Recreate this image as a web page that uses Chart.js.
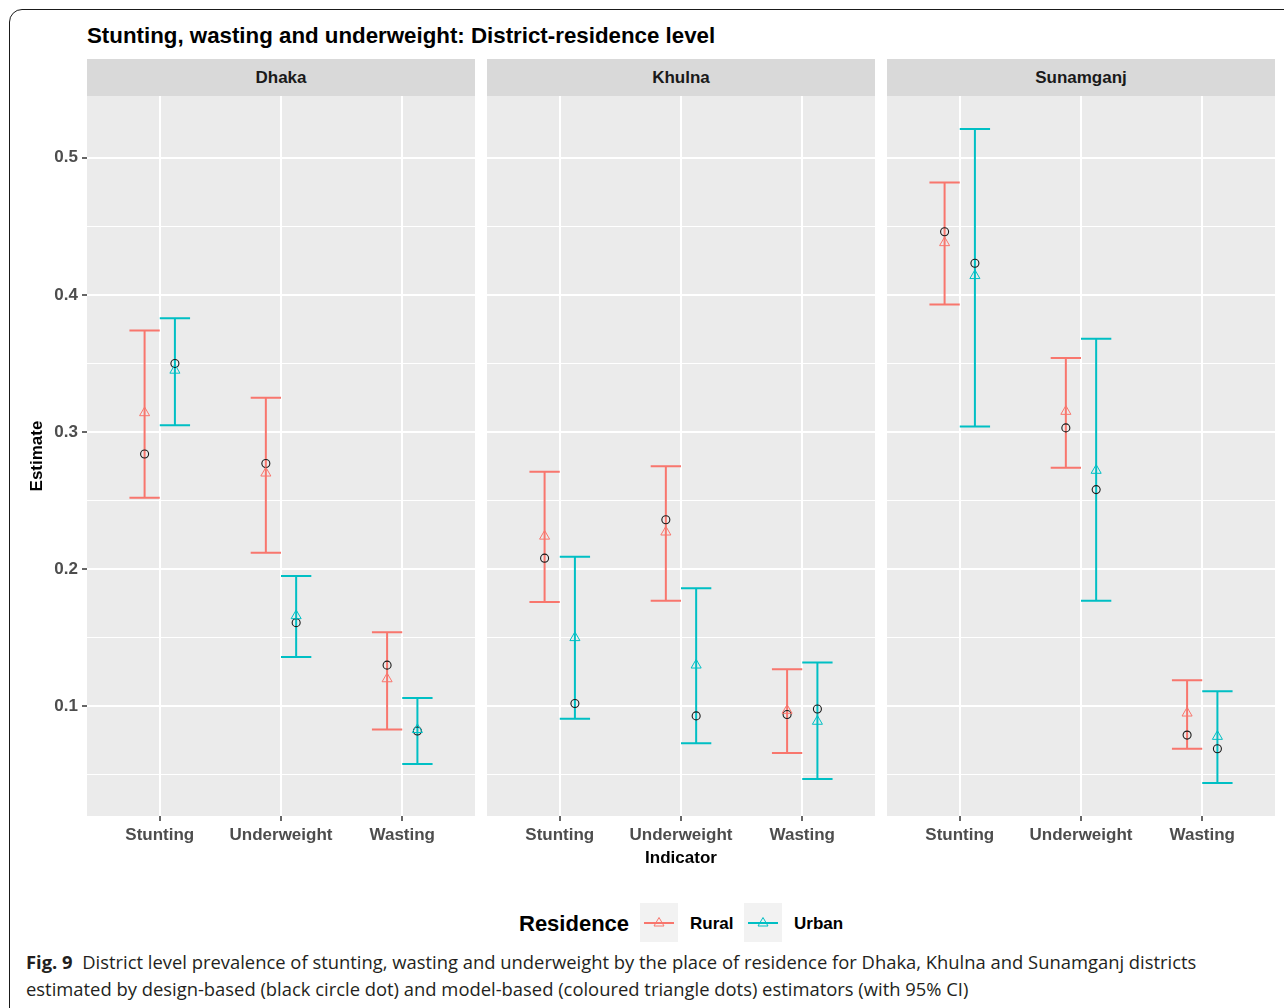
<!DOCTYPE html>
<html>
<head>
<meta charset="utf-8">
<script src="https://cdn.jsdelivr.net/npm/chart.js@4.4.1/dist/chart.umd.min.js"></script>
<style>
  html, body { margin: 0; padding: 0; background: #fff; width: 1284px; height: 1008px; overflow: hidden; }
  #frame { position: absolute; left: 9px; top: 9px; width: 1400px; height: 1100px;
           border: 1.5px solid #1a1a1a; border-radius: 13px; box-sizing: border-box; }
  .abs { position: absolute; white-space: nowrap; }
  #title { left: 87px; top: 22px; font: bold 22.3px "Liberation Sans", Arial, sans-serif; color: #000; line-height: 28px; }
  .strip { position: absolute; top: 59px; height: 37px; width: 388px; background: #D9D9D9;
           font: bold 17px "Liberation Sans", Arial, sans-serif; color: #1A1A1A; text-align: center; line-height: 38px; }
  .panel { position: absolute; top: 96px; }
  #xtitle { left: 581px; width: 200px; top: 848px; text-align: center; font: bold 17px "Liberation Sans", Arial, sans-serif; color: #000; }
  #legend-title { left: 519px; top: 910px; font: bold 22px "Liberation Sans", Arial, sans-serif; color: #000; line-height: 28px; }
  .legend-label { top: 913px; font: bold 17px "Liberation Sans", Arial, sans-serif; color: #000; line-height: 22px; }
  .caption { left: 26px; font: 18.4px "Open Sans", "Noto Sans", sans-serif; color: #231f20; line-height: 27px; }
  .caption b { font-weight: 700; }
</style>
</head>
<body>
<div id="frame"></div>
<div id="title" class="abs">Stunting, wasting and underweight: District-residence level</div>

<div id="strips"></div>
<div id="panels"></div>

<div id="xtitle" class="abs">Indicator</div>

<div id="legend-title" class="abs">Residence</div>
<svg class="abs" style="left:640px;top:903px" width="38" height="39">
  <rect x="0" y="0" width="38" height="39" fill="#F2F2F2"/>
  <line x1="4" y1="20" x2="34" y2="20" stroke="#F8766D" stroke-width="2"/>
  <polygon points="19,14.5 24,23 14,23" fill="none" stroke="#F8766D" stroke-width="1"/>
</svg>
<div class="abs legend-label" style="left:690px">Rural</div>
<svg class="abs" style="left:744px;top:903px" width="38" height="39">
  <rect x="0" y="0" width="38" height="39" fill="#F2F2F2"/>
  <line x1="4" y1="20" x2="34" y2="20" stroke="#00BFC4" stroke-width="2"/>
  <polygon points="19,14.5 24,23 14,23" fill="none" stroke="#00BFC4" stroke-width="1"/>
</svg>
<div class="abs legend-label" style="left:794px">Urban</div>

<div id="cap1" class="abs caption" style="top:948px"><b>Fig. 9</b>&nbsp; District level prevalence of stunting, wasting and underweight by the place of residence for Dhaka, Khulna and Sunamganj districts</div>
<div id="cap2" class="abs caption" style="top:975px">estimated by design-based (black circle dot) and model-based (coloured triangle dots) estimators (with 95% CI)</div>

<script>
// Facets and x categories
const districts = ['Dhaka', 'Khulna', 'Sunamganj'];
const indicators = ['Stunting', 'Underweight', 'Wasting'];

// Values run district by district: Dhaka (Stunting, Underweight, Wasting), Khulna (...), Sunamganj (...)
// Model-based estimates (triangles)
const ruralModel  = [0.314, 0.270, 0.120,  0.224, 0.227, 0.097,  0.438, 0.315, 0.095];
const urbanModel  = [0.345, 0.166, 0.083,  0.150, 0.130, 0.089,  0.414, 0.272, 0.078];
// Design-based estimates (black circles)
const ruralDesign = [0.284, 0.277, 0.130,  0.208, 0.236, 0.094,  0.446, 0.303, 0.079];
const urbanDesign = [0.350, 0.161, 0.082,  0.102, 0.093, 0.098,  0.423, 0.258, 0.069];
// 95% confidence limits
const ruralLower  = [0.252, 0.212, 0.083,  0.176, 0.177, 0.066,  0.393, 0.274, 0.069];
const ruralUpper  = [0.374, 0.325, 0.154,  0.271, 0.275, 0.127,  0.482, 0.354, 0.119];
const urbanLower  = [0.305, 0.136, 0.058,  0.091, 0.073, 0.047,  0.304, 0.177, 0.044];
const urbanUpper  = [0.383, 0.195, 0.106,  0.209, 0.186, 0.132,  0.521, 0.368, 0.111];

// Axis ticks
const yGridValues = [0.05, 0.1, 0.15, 0.2, 0.25, 0.3, 0.35, 0.4, 0.45, 0.5];
const yTickLabels = { 0.1: '0.1', 0.2: '0.2', 0.3: '0.3', 0.4: '0.4', 0.5: '0.5' };
const yRange = [0.02, 0.545];

const RURAL = '#F8766D';
const URBAN = '#00BFC4';
const DODGE = 0.125;
const CAP = 0.125;

const panelLeft = [87, 487, 887];
const panelWidth = 388;
const panelHeight = 720;
const xAxisHeight = 50;
const yAxisWidth = 67;

// grey panel background
const panelBackground = {
  id: 'panelBackground',
  beforeDraw(chart) {
    const { ctx, chartArea: a } = chart;
    ctx.save();
    ctx.fillStyle = '#EBEBEB';
    ctx.fillRect(a.left, a.top, a.right - a.left, a.bottom - a.top);
    ctx.restore();
  }
};

// vertical confidence bars with caps
const errorBars = {
  id: 'errorBars',
  beforeDatasetsDraw(chart, args, opts) {
    const { ctx, scales: { x, y } } = chart;
    ctx.save();
    ctx.lineWidth = 2;
    ctx.lineCap = 'butt';
    (opts.series || []).forEach(s => {
      ctx.strokeStyle = s.color;
      s.x.forEach((xv, i) => {
        const px = x.getPixelForValue(xv);
        const pl = x.getPixelForValue(xv - CAP);
        const pr = x.getPixelForValue(xv + CAP);
        const yl = y.getPixelForValue(s.lo[i]);
        const yh = y.getPixelForValue(s.hi[i]);
        ctx.beginPath();
        ctx.moveTo(px, yl); ctx.lineTo(px, yh);
        ctx.moveTo(pl, yl); ctx.lineTo(pr, yl);
        ctx.moveTo(pl, yh); ctx.lineTo(pr, yh);
        ctx.stroke();
      });
    });
    ctx.restore();
  }
};

const isMajor = v => Math.abs(v * 10 - Math.round(v * 10)) < 1e-6;
const noPadding = s => { s.paddingTop = 0; s.paddingBottom = 0; s.paddingLeft = 0; s.paddingRight = 0; };

function makePanel(d) {
  const first = d === 0;
  const left = first ? panelLeft[0] - yAxisWidth : panelLeft[d];
  const width = first ? panelWidth + yAxisWidth : panelWidth;

  const strip = document.createElement('div');
  strip.className = 'strip';
  strip.style.left = panelLeft[d] + 'px';
  strip.textContent = districts[d];
  document.getElementById('strips').appendChild(strip);

  const wrap = document.createElement('div');
  wrap.className = 'panel';
  wrap.style.left = left + 'px';
  const canvas = document.createElement('canvas');
  canvas.width = width;
  canvas.height = panelHeight + xAxisHeight;
  canvas.style.width = width + 'px';
  canvas.style.height = (panelHeight + xAxisHeight) + 'px';
  wrap.appendChild(canvas);
  document.getElementById('panels').appendChild(wrap);

  const idx = indicators.map((_, k) => d * indicators.length + k);
  const xr = indicators.map((_, k) => k + 1 - DODGE);
  const xu = indicators.map((_, k) => k + 1 + DODGE);
  const pts = (xs, arr) => idx.map((j, k) => ({ x: xs[k], y: arr[j] }));

  new Chart(canvas, {
    type: 'scatter',
    data: {
      datasets: [
        { label: 'Rural', data: pts(xr, ruralModel), pointStyle: 'triangle', pointRadius: 5.8,
          borderColor: RURAL, backgroundColor: 'rgba(0,0,0,0)', pointBorderWidth: 1 },
        { label: 'Urban', data: pts(xu, urbanModel), pointStyle: 'triangle', pointRadius: 5.8,
          borderColor: URBAN, backgroundColor: 'rgba(0,0,0,0)', pointBorderWidth: 1 },
        { label: 'Rural design', data: pts(xr, ruralDesign), pointStyle: 'circle', pointRadius: 4,
          borderColor: '#1a1a1a', backgroundColor: 'rgba(0,0,0,0)', pointBorderWidth: 1.1 },
        { label: 'Urban design', data: pts(xu, urbanDesign), pointStyle: 'circle', pointRadius: 4,
          borderColor: '#1a1a1a', backgroundColor: 'rgba(0,0,0,0)', pointBorderWidth: 1.1 }
      ]
    },
    options: {
      responsive: false,
      animation: false,
      events: [],
      layout: { padding: 0, autoPadding: false },
      plugins: {
        legend: { display: false },
        tooltip: { enabled: false },
        errorBars: {
          series: [
            { color: RURAL, x: xr, lo: idx.map(j => ruralLower[j]), hi: idx.map(j => ruralUpper[j]) },
            { color: URBAN, x: xu, lo: idx.map(j => urbanLower[j]), hi: idx.map(j => urbanUpper[j]) }
          ]
        }
      },
      scales: {
        x: {
          type: 'linear',
          min: 0.4, max: 3.6,
          afterBuildTicks: s => { s.ticks = indicators.map((_, k) => ({ value: k + 1 })); },
          afterFit: s => { s.height = xAxisHeight; noPadding(s); },
          ticks: {
            callback: v => indicators[Math.round(v) - 1],
            color: '#4D4D4D',
            font: { family: '"Liberation Sans", Arial, sans-serif', size: 17, weight: 'bold' },
            padding: 4, maxRotation: 0, autoSkip: false
          },
          grid: { color: '#FFFFFF', lineWidth: 2, drawTicks: true, tickLength: 5, tickColor: '#333333', tickWidth: 1.5 },
          border: { display: false }
        },
        y: {
          type: 'linear',
          min: yRange[0], max: yRange[1],
          afterBuildTicks: s => { s.ticks = yGridValues.map(v => ({ value: v })); },
          afterFit: s => { s.width = first ? yAxisWidth : 0; noPadding(s); },
          ticks: {
            display: first,
            callback: v => isMajor(v) ? (yTickLabels[Math.round(v * 10) / 10] || '') : '',
            color: '#4D4D4D',
            font: { family: '"Liberation Sans", Arial, sans-serif', size: 17, weight: 'bold' },
            padding: 4
          },
          grid: {
            color: '#FFFFFF',
            lineWidth: c => isMajor(c.tick.value) ? 2 : 1,
            drawTicks: first, tickLength: 5, tickWidth: 1.5,
            tickColor: c => isMajor(c.tick.value) ? '#333333' : 'rgba(0,0,0,0)'
          },
          border: { display: false },
          title: {
            display: first, text: 'Estimate', color: '#000',
            font: { family: '"Liberation Sans", Arial, sans-serif', size: 17, weight: 'bold' },
            padding: { top: 7, bottom: 0 }
          }
        }
      }
    },
    plugins: [panelBackground, errorBars]
  });
}

districts.forEach((_, d) => makePanel(d));
</script>
</body>
</html>
